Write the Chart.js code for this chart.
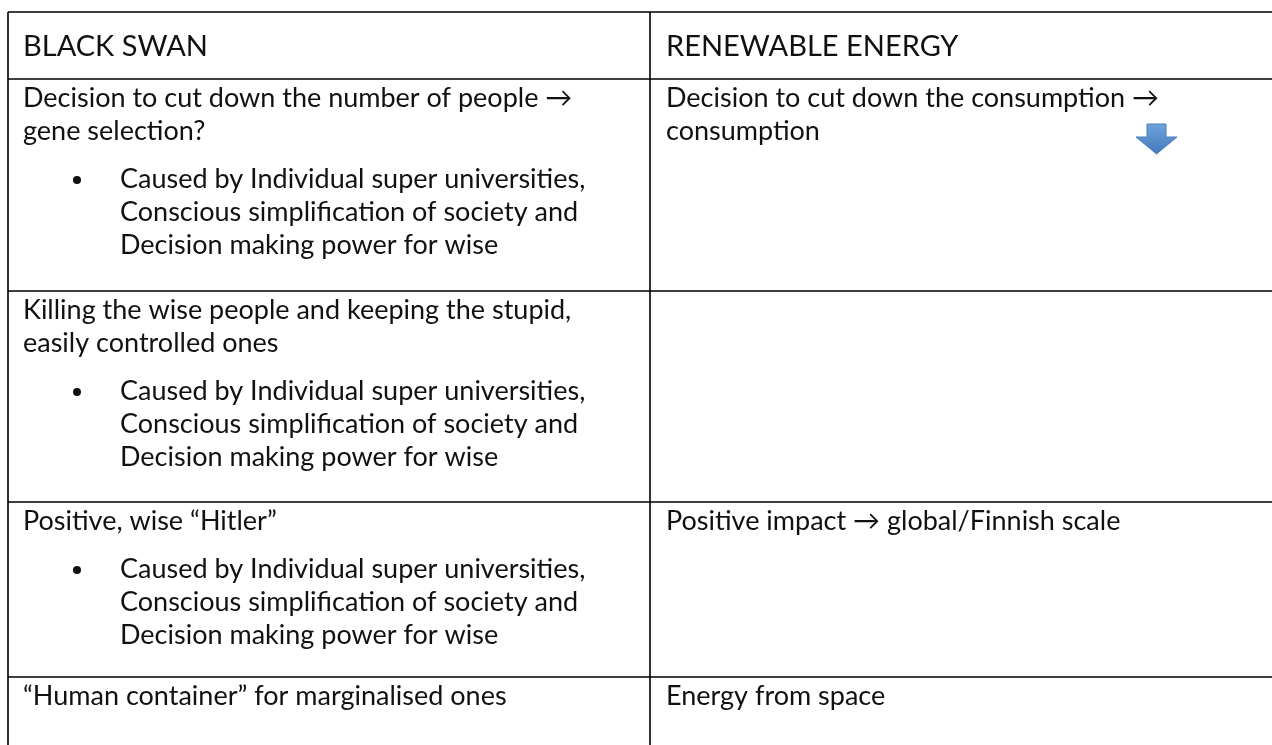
<!DOCTYPE html>
<html>
<head>
<meta charset="utf-8">
<script src="https://cdn.jsdelivr.net/npm/chart.js@4.4.1/dist/chart.umd.min.js"></script>
<style>
  html, body { margin: 0; padding: 0; background: #fff; }
  canvas { display: block; }
</style>
</head>
<body>
<canvas id="table" width="1272" height="745"></canvas>
<script>
// Column headers
const headers = ['BLACK SWAN', 'RENEWABLE ENERGY'];

// Left column: main text lines per row, and whether the causes bullet follows
const blackSwanLines = [
  ['Decision to cut down the number of people \u2192', 'gene selection?'],
  ['Killing the wise people and keeping the stupid,', 'easily controlled ones'],
  ['Positive, wise \u201CHitler\u201D'],
  ['\u201CHuman container\u201D for marginalised ones']
];
const causeBullet = [
  'Caused by Individual super universities,',
  'Conscious simplification of society and',
  'Decision making power for wise'
];
const hasCauses = [true, true, true, false];

// Right column
const renewableLines = [
  ['Decision to cut down the consumption \u2192', 'consumption'],
  [],
  ['Positive impact \u2192 global/Finnish scale'],
  ['Energy from space']
];
const downArrowRow = 0;

// Geometry of the grid (in canvas units, mapped through the chart scales)
const grid = {
  left: 8, divider: 650, right: 1300,
  rowEdges: [12, 79, 291, 502, 677, 780],
  padX: 15, bulletX: 77, bulletTextX: 120,
  headBase: 44, firstBase: 28, lineGap: 33, paraGap: 15
};
const bodyFont = '27px Lato, "DejaVu Sans", sans-serif';
const headFont = '29px Lato, "DejaVu Sans", sans-serif';

const tablePlugin = {
  id: 'tablePlugin',
  afterDraw(chart) {
    const { ctx } = chart;
    const sx = chart.scales.x, sy = chart.scales.y;
    const X = v => sx.getPixelForValue(v);
    const Y = v => sy.getPixelForValue(v);
    const rows = grid.rowEdges;

    ctx.save();
    // grid lines
    ctx.strokeStyle = '#000';
    ctx.lineWidth = 1.6;
    ctx.beginPath();
    rows.slice(0, -1).forEach(r => {
      ctx.moveTo(X(grid.left), Y(r));
      ctx.lineTo(X(grid.right), Y(r));
    });
    ctx.moveTo(X(grid.left), Y(rows[0]));
    ctx.lineTo(X(grid.left), Y(rows[rows.length - 1]));
    ctx.moveTo(X(grid.divider), Y(rows[0]));
    ctx.lineTo(X(grid.divider), Y(rows[rows.length - 1]));
    ctx.stroke();

    ctx.fillStyle = '#111';
    ctx.textBaseline = 'alphabetic';
    ctx.textAlign = 'left';

    // header
    ctx.font = headFont;
    ctx.fillText(headers[0], X(grid.left + grid.padX), Y(rows[0] + grid.headBase));
    ctx.fillText(headers[1], X(grid.divider + grid.padX + 1), Y(rows[0] + grid.headBase));

    // body rows
    ctx.font = bodyFont;
    blackSwanLines.forEach((lines, i) => {
      let y = rows[i + 1] + grid.firstBase;
      lines.forEach(t => {
        ctx.fillText(t, X(grid.left + grid.padX), Y(y));
        y += grid.lineGap;
      });
      if (hasCauses[i]) {
        y += grid.paraGap;
        causeBullet.forEach((t, k) => {
          if (k === 0) {
            ctx.beginPath();
            ctx.arc(X(grid.bulletX), Y(y - 8), 4, 0, Math.PI * 2);
            ctx.fill();
          }
          ctx.fillText(t, X(grid.bulletTextX), Y(y));
          y += grid.lineGap;
        });
      }
    });
    renewableLines.forEach((lines, i) => {
      let y = rows[i + 1] + grid.firstBase;
      lines.forEach(t => {
        ctx.fillText(t, X(grid.divider + grid.padX + 1), Y(y));
        y += grid.lineGap;
      });
    });

    // blue block arrow in the first renewable cell
    const top = rows[downArrowRow + 1];
    const ax0 = X(1136), ax1 = X(1177), sx0 = X(1147), sx1 = X(1166);
    const ay0 = Y(top + 45), ay1 = Y(top + 58), ay2 = Y(top + 75);
    const g = ctx.createLinearGradient(0, ay0, 0, ay2);
    g.addColorStop(0, '#6fa3db');
    g.addColorStop(1, '#4479bd');
    ctx.beginPath();
    ctx.moveTo(sx0, ay0);
    ctx.lineTo(sx1, ay0);
    ctx.lineTo(sx1, ay1);
    ctx.lineTo(ax1, ay1);
    ctx.lineTo((ax0 + ax1) / 2, ay2);
    ctx.lineTo(ax0, ay1);
    ctx.lineTo(sx0, ay1);
    ctx.closePath();
    ctx.fillStyle = g;
    ctx.fill();
    ctx.strokeStyle = '#4a7ebb';
    ctx.lineWidth = 1;
    ctx.stroke();
    ctx.restore();
  }
};

new Chart(document.getElementById('table'), {
  type: 'scatter',
  data: { datasets: [{ data: [], pointRadius: 0 }] },
  options: {
    responsive: false,
    animation: false,
    devicePixelRatio: 1,
    layout: { padding: 0 },
    plugins: { legend: { display: false }, tooltip: { enabled: false } },
    scales: {
      x: { type: 'linear', min: 0, max: 1272, display: false },
      y: { type: 'linear', min: 0, max: 745, reverse: true, display: false }
    }
  },
  plugins: [tablePlugin]
});
</script>
</body>
</html>
